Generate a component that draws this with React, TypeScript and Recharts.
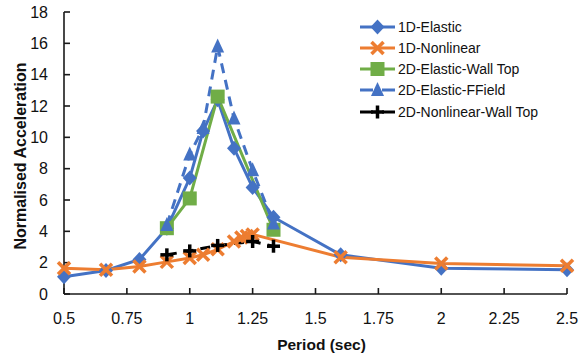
import { LineChart, Line, XAxis, YAxis, Legend, Label } from 'recharts';

const FONT = '"Liberation Sans", Arial, sans-serif';
const TEXT = '#111';
const AXIS = '#1a1a1a';

const seriesNames = ['1D-Elastic', '1D-Nonlinear', '2D-Elastic-Wall Top', '2D-Elastic-FField', '2D-Nonlinear-Wall Top'];

const xTicks = [0.5, 0.75, 1, 1.25, 1.5, 1.75, 2, 2.25, 2.5];
const yTicks = [0, 2, 4, 6, 8, 10, 12, 14, 16, 18];

const elastic1DPeriods = [0.5, 0.667, 0.8, 0.909, 1.0, 1.053, 1.111, 1.176, 1.25, 1.333, 1.6, 2.0, 2.5];
const elastic1DValues = [1.1, 1.5, 2.2, 4.2, 7.4, 10.4, 12.4, 9.3, 6.8, 4.9, 2.5, 1.65, 1.55];

const nonlinear1DPeriods = [0.5, 0.667, 0.8, 0.909, 1.0, 1.053, 1.111, 1.176, 1.205, 1.227, 1.25, 1.6, 2.0, 2.5];
const nonlinear1DValues = [1.65, 1.55, 1.75, 2.05, 2.3, 2.5, 2.85, 3.35, 3.6, 3.7, 3.8, 2.35, 1.95, 1.8];

const elasticWallPeriods = [0.909, 1.0, 1.111, 1.333];
const elasticWallValues = [4.2, 6.1, 12.6, 4.1];

const elasticFFieldPeriods = [0.909, 1.0, 1.053, 1.111, 1.176, 1.25, 1.333];
const elasticFFieldValues = [4.4, 8.9, 10.6, 15.8, 11.2, 7.9, 4.5];

const nonlinearWallPeriods = [0.909, 1.0, 1.111, 1.25, 1.333];
const nonlinearWallValues = [2.5, 2.75, 3.1, 3.35, 3.05];

type Shape = 'diamond' | 'cross' | 'square' | 'triangle' | 'plus';

const toPoints = (xs: number[], ys: number[]) => xs.map((x, i) => ({ x, y: ys[i] }));

const SERIES: { name: string; data: { x: number; y: number }[]; color: string; shape: Shape; dashed: boolean }[] = [
  { name: seriesNames[0], data: toPoints(elastic1DPeriods, elastic1DValues), color: '#4472C4', shape: 'diamond', dashed: false },
  { name: seriesNames[1], data: toPoints(nonlinear1DPeriods, nonlinear1DValues), color: '#ED7D31', shape: 'cross', dashed: false },
  { name: seriesNames[2], data: toPoints(elasticWallPeriods, elasticWallValues), color: '#70AD47', shape: 'square', dashed: false },
  { name: seriesNames[3], data: toPoints(elasticFFieldPeriods, elasticFFieldValues), color: '#4472C4', shape: 'triangle', dashed: true },
  { name: seriesNames[4], data: toPoints(nonlinearWallPeriods, nonlinearWallValues), color: '#000000', shape: 'plus', dashed: true },
];

const Marker = ({ shape, cx, cy, color }: { shape: Shape; cx: number; cy: number; color: string }) => {
  if (cx == null || cy == null) return <g />;
  switch (shape) {
    case 'diamond':
      return <polygon points={`${cx},${cy - 7.5} ${cx + 7},${cy} ${cx},${cy + 7.5} ${cx - 7},${cy}`} fill={color} />;
    case 'cross':
      return (
        <g stroke={color} strokeWidth={3.5}>
          <line x1={cx - 6} y1={cy - 6} x2={cx + 6} y2={cy + 6} />
          <line x1={cx - 6} y1={cy + 6} x2={cx + 6} y2={cy - 6} />
        </g>
      );
    case 'square':
      return <rect x={cx - 7} y={cy - 7} width={14} height={14} fill={color} />;
    case 'triangle':
      return <polygon points={`${cx},${cy - 8} ${cx + 6.5},${cy + 6} ${cx - 6.5},${cy + 6}`} fill={color} />;
    case 'plus':
    default:
      return (
        <g stroke={color} strokeWidth={3.5}>
          <line x1={cx - 6.5} y1={cy} x2={cx + 6.5} y2={cy} />
          <line x1={cx} y1={cy - 6.5} x2={cx} y2={cy + 6.5} />
        </g>
      );
  }
};

const renderLegend = () => (
  <div style={{ fontFamily: FONT, fontSize: 14, color: TEXT }}>
    {SERIES.map((s) => (
      <div key={s.name} style={{ display: 'flex', alignItems: 'center', height: 21.25, whiteSpace: 'nowrap' }}>
        <svg width={38} height={20} style={{ flex: 'none' }}>
          <line
            x1={0}
            y1={10}
            x2={35}
            y2={10}
            stroke={s.color}
            strokeWidth={3}
            strokeDasharray={s.dashed ? '13 9 13' : undefined}
          />
          <Marker shape={s.shape} cx={17.5} cy={10} color={s.color} />
        </svg>
        <span>{s.name}</span>
      </div>
    ))}
  </div>
);

const tickStyle = { fontFamily: FONT, fontSize: 16, fill: TEXT };
const titleStyle = { fontFamily: FONT, fontSize: 16, fontWeight: 700, fill: TEXT };

// rotated y title, centred a little below the plot middle like the original
const YTitle = () => (
  <text
    transform="translate(20,156) rotate(-90)"
    textAnchor="middle"
    dominantBaseline="central"
    style={titleStyle}
  >
    Normalised Acceleration
  </text>
);

export default function App() {
  return (
    <div style={{ position: 'absolute', left: 0, top: 0, width: 579, height: 359, background: '#fff' }}>
      <LineChart width={579} height={359} margin={{ top: 12, right: 12, bottom: 0, left: 0 }}>
        <XAxis
          dataKey="x"
          type="number"
          domain={[0.5, 2.5]}
          ticks={xTicks}
          interval={0}
          height={65}
          tickSize={-6}
          tickMargin={25}
          tick={tickStyle}
          axisLine={{ stroke: AXIS, strokeWidth: 1.6 }}
          tickLine={{ stroke: AXIS, strokeWidth: 1.6 }}
          label={{ value: 'Period (sec)', position: 'insideBottom', offset: 9, dx: 6, style: { ...titleStyle, fontSize: 15.5 } }}
        />
        <YAxis
          type="number"
          domain={[0, 18]}
          ticks={yTicks}
          interval={0}
          width={64}
          tickSize={-6}
          tickMargin={22}
          tick={tickStyle}
          axisLine={{ stroke: AXIS, strokeWidth: 1.6 }}
          tickLine={{ stroke: AXIS, strokeWidth: 1.6 }}
        >
          <Label content={<YTitle />} />
        </YAxis>
        <Legend
          layout="vertical"
          align="center"
          verticalAlign="middle"
          content={renderLegend}
          wrapperStyle={{ top: 16, left: 360, width: 215 }}
        />
        {SERIES.map((s) => (
          <Line
            key={s.name}
            name={s.name}
            data={s.data}
            dataKey="y"
            type="linear"
            stroke={s.color}
            strokeWidth={3}
            strokeDasharray={s.dashed ? '10 7' : undefined}
            dot={(p: any) => <Marker key={`${s.name}-${p.index}`} shape={s.shape} cx={p.cx} cy={p.cy} color={s.color} />}
            activeDot={false}
            isAnimationActive={false}
          />
        ))}
      </LineChart>
    </div>
  );
}
